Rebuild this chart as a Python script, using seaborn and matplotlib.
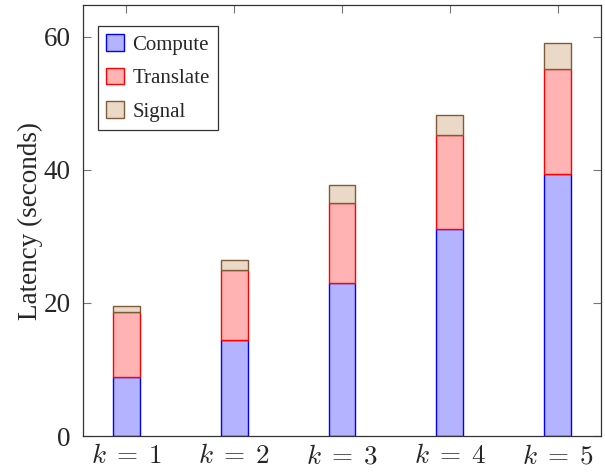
import matplotlib
matplotlib.use("Agg")
import matplotlib.pyplot as plt
import seaborn as sns
import numpy as np

# values
ks = ["k1", "k2", "k3", "k4", "k5"]
tick_labels = [r"$k\;=\;1$", r"$k\;=\;2$", r"$k\;=\;3$", r"$k\;=\;4$", r"$k\;=\;5$"]
compute = [8.8, 14.5, 23.0, 31.1, 39.4]
translate = [9.9, 10.4, 12.1, 14.1, 15.8]
signal = [0.8, 1.5, 2.6, 3.1, 3.9]

sns.set_style("white")
plt.rcParams["font.family"] = ["Liberation Serif", "DejaVu Serif"]
plt.rcParams["mathtext.fontset"] = "cm"

fig = plt.figure(figsize=(6.05, 4.72), dpi=100)
ax = fig.add_axes([83 / 605, 36 / 472, 518 / 605, 431 / 472])

bottom2 = np.array(compute) + np.array(translate)

sns.barplot(x=ks, y=compute, color="#B3B3FF", edgecolor="blue", linewidth=1.0,
            width=0.25, saturation=1, label="Compute", ax=ax)
sns.barplot(x=ks, y=translate, bottom=compute, color="#FFB3B3", edgecolor="red",
            linewidth=1.0, width=0.25, saturation=1, label="Translate", ax=ax)
sns.barplot(x=ks, y=signal, bottom=bottom2, color="#EAD9C6", edgecolor="#7F5B3A",
            linewidth=1.0, width=0.25, saturation=1, label="Signal", ax=ax)

ax.set_xlim(-0.4, 4.4)
ax.set_ylim(0, 64.8)
ax.set_xticks(range(len(ks)))
ax.set_xticklabels(tick_labels, fontsize=19.5)
ax.set_yticks([0, 20, 40, 60])
ax.set_yticklabels(["0", "20", "40", "60"], fontsize=19.5)
ax.set_xlabel("")
ax.set_ylabel("Latency (seconds)", fontsize=19.5, labelpad=0)

for sp in ax.spines.values():
    sp.set_color("#333333")
    sp.set_linewidth(0.9)
ax.tick_params(axis="both", direction="in", length=6, width=0.8, color="#777777",
               top=True, right=True, bottom=True, left=True, pad=9)
ax.tick_params(axis="x", pad=6)

leg = ax.legend(loc="upper left", bbox_to_anchor=(15 / 518, 1 - 21 / 431), fontsize=15,
                frameon=True, fancybox=False, edgecolor="#333333", framealpha=1,
                handlelength=0.85, handleheight=0.85, handletextpad=0.4,
                borderpad=0.4, labelspacing=0.62, borderaxespad=0)
leg.get_frame().set_linewidth(0.9)

fig.savefig("out.png", dpi=100)
